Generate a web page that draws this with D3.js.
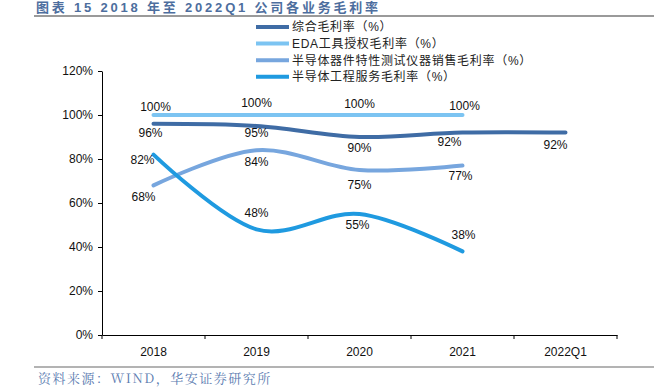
<!DOCTYPE html>
<meta charset="utf-8">
<style>
  body { margin: 0; background: #fff; }
  svg text { font-family: "Liberation Sans", Arial, "Noto Sans CJK SC", sans-serif; }
  .cjk { font-family: "Liberation Sans", "Noto Sans CJK SC", sans-serif; }
  .axis path, .axis line { stroke: #000; }
  .axis text { font-size: 12px; fill: #111; }
</style>
<body>
<svg id="chart"></svg>
<script src="https://cdn.jsdelivr.net/npm/d3@7"></script>
<script>
// categories and series
var years = ["2018", "2019", "2020", "2021", "2022Q1"];
var yTicks = [0, 20, 40, 60, 80, 100, 120];
var seriesNames = ["综合毛利率（%）", "EDA工具授权毛利率（%）", "半导体器件特性测试仪器销售毛利率（%）", "半导体工程服务毛利率（%）"];
var zongheVals = [96, 95, 90, 92, 92];
var edaVals = [100, 100, 100, 100, null];
var qijianVals = [68, 84, 75, 77, null];
var gongchengVals = [82, 48, 55, 38, null];

var width = 654, height = 389;
var margin = {left: 102, right: 37, top: 71, bottom: 54};

var colors = ["#3f6ca5", "#7cc4f2", "#77a6de", "#1f9ae0"];
// label offsets [dx, dy] per series per point (relative to the point)
var labelOffsets = [
  [[-3, 13], [0, 10], [0, 14], [-13, 13], [-10, 16]],
  [[2, -5], [0, -9], [0, -8], [2, -6], [0, 0]],
  [[-10, 15], [0, 15], [0, 18], [-2, 14], [0, 0]],
  [[-11, 9], [0, -13], [-2, 14], [1, -13], [0, 0]]
];

var svg = d3.select("#chart").attr("width", width).attr("height", height);

// title
svg.append("text")
  .attr("class", "cjk")
  .attr("x", 36).attr("y", 12)
  .attr("font-size", 13).attr("font-weight", "bold").attr("letter-spacing", 2.8)
  .attr("fill", "#4d6e9e")
  .text("图表 15 2018 年至 2022Q1 公司各业务毛利率");
svg.append("line").attr("x1", 34).attr("x2", 654).attr("y1", 16).attr("y2", 16)
  .attr("stroke", "#9a9a9a").attr("stroke-width", 2);

var x = d3.scaleBand().domain(years).range([margin.left, width - margin.right]);
var y = d3.scaleLinear().domain([0, 120]).range([height - margin.bottom, margin.top]);

svg.append("g").attr("class", "axis")
  .attr("transform", "translate(" + margin.left + ",0)")
  .call(d3.axisLeft(y).tickValues(yTicks).tickSize(4).tickSizeOuter(0).tickFormat(d => d + "%"))
  .call(g => g.selectAll("text").attr("dx", -2));

var xAxis = svg.append("g").attr("class", "axis")
  .attr("transform", "translate(0," + y(0) + ")")
  .call(d3.axisBottom(x).tickSize(0).tickSizeOuter(0).tickPadding(12));
xAxis.select(".domain").attr("stroke", "#333");
// tick marks at band edges
xAxis.selectAll("line.edge")
  .data(years.map(d => x(d)).concat([x.range()[1]]))
  .enter().append("line").attr("class", "edge")
  .attr("x1", d => d).attr("x2", d => d).attr("y1", 0).attr("y2", 4)
  .attr("stroke", "#333");

var allSeries = [zongheVals, edaVals, qijianVals, gongchengVals];
var drawOrder = [1, 0, 2, 3];

var line = d3.line()
  .defined(d => d.v != null)
  .x(d => x(d.year) + x.bandwidth() / 2)
  .y(d => y(d.v))
  .curve(d3.curveCardinal.tension(0));

drawOrder.forEach(function(si) {
  var pts = years.map((yr, i) => ({year: yr, v: allSeries[si][i]}));
  svg.append("path")
    .datum(pts)
    .attr("d", line)
    .attr("fill", "none")
    .attr("stroke", colors[si])
    .attr("stroke-width", 4)
    .attr("stroke-linecap", "round");
});

allSeries.forEach(function(vals, si) {
  vals.forEach(function(v, i) {
    if (v == null) return;
    var off = labelOffsets[si][i];
    svg.append("text")
      .attr("x", x(years[i]) + x.bandwidth() / 2 + off[0])
      .attr("y", y(v) + off[1])
      .attr("dy", "0.05em")
      .attr("text-anchor", "middle")
      .attr("font-size", 12)
      .attr("fill", "#111")
      .text(v + "%");
  });
});

// legend
var legend = svg.append("g").attr("transform", "translate(256,27)");
seriesNames.forEach(function(name, i) {
  var g = legend.append("g").attr("transform", "translate(0," + (i * 16.6) + ")");
  g.append("line").attr("x1", 0).attr("x2", 33).attr("y1", 0).attr("y2", 0)
    .attr("stroke", colors[i]).attr("stroke-width", 4);
  g.append("text").attr("class", "cjk").attr("x", 36).attr("y", 0).attr("dy", "0.36em")
    .attr("font-size", 12).attr("letter-spacing", 0.7).attr("fill", "#222").text(name);
});

// footer
svg.append("line").attr("x1", 34).attr("x2", 654).attr("y1", 367).attr("y2", 367)
  .attr("stroke", "#9a9a9a").attr("stroke-width", 1.5);
svg.append("text")
  .attr("x", 38).attr("y", 383)
  .attr("font-size", 13).attr("letter-spacing", 1.5).attr("fill", "#5a7bb0")
  .style("font-family", "\"Noto Serif CJK SC\", \"Noto Sans CJK SC\", serif")
  .text("资料来源：WIND，华安证券研究所");
</script>
</body>
